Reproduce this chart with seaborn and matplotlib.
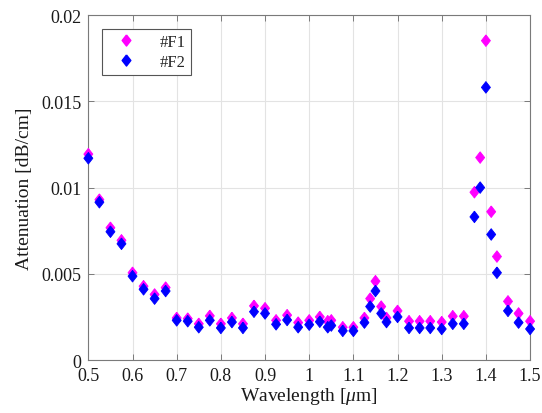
import numpy as np
import pandas as pd
import matplotlib
matplotlib.use("Agg")
import matplotlib.pyplot as plt
import seaborn as sns
from matplotlib.lines import Line2D

wavelength = [0.500, 0.525, 0.550, 0.575, 0.600, 0.625, 0.650, 0.675, 0.700, 0.725,
              0.750, 0.775, 0.800, 0.825, 0.850, 0.875, 0.900, 0.925, 0.950, 0.975,
              1.000, 1.024, 1.042, 1.050, 1.076, 1.100, 1.125, 1.138, 1.150, 1.163,
              1.175, 1.200, 1.226, 1.250, 1.274, 1.300, 1.325, 1.350, 1.374, 1.387,
              1.400, 1.412, 1.425, 1.450, 1.474, 1.500]
f1 = [0.01194, 0.00930, 0.00767, 0.00694, 0.00506, 0.00428, 0.00380, 0.00420, 0.00244, 0.00240,
      0.00210, 0.00256, 0.00210, 0.00244, 0.00210, 0.00314, 0.00300, 0.00230, 0.00260, 0.00217,
      0.00230, 0.00250, 0.00225, 0.00230, 0.00190, 0.00190, 0.00244, 0.00356, 0.00457, 0.00310,
      0.00244, 0.00285, 0.00225, 0.00225, 0.00225, 0.00220, 0.00254, 0.00254, 0.00973, 0.01174,
      0.01852, 0.00860, 0.00600, 0.00340, 0.00270, 0.00225]
f2 = [0.01170, 0.00915, 0.00744, 0.00674, 0.00486, 0.00410, 0.00356, 0.00400, 0.00230, 0.00225,
      0.00190, 0.00230, 0.00186, 0.00220, 0.00186, 0.00280, 0.00270, 0.00207, 0.00232, 0.00190,
      0.00205, 0.00222, 0.00190, 0.00200, 0.00169, 0.00169, 0.00217, 0.00310, 0.00400, 0.00270,
      0.00220, 0.00250, 0.00186, 0.00186, 0.00186, 0.00180, 0.00210, 0.00210, 0.00830, 0.01000,
      0.01581, 0.00728, 0.00506, 0.00285, 0.00217, 0.00180]
series_names = ["#F1", "#F2"]
series_colors = ["#ff00ff", "#0000ff"]
xticks = [0.5, 0.6, 0.7, 0.8, 0.9, 1.0, 1.1, 1.2, 1.3, 1.4, 1.5]
xtick_labels = ["0.5", "0.6", "0.7", "0.8", "0.9", "1", "1.1", "1.2", "1.3", "1.4", "1.5"]
yticks = [0, 0.005, 0.01, 0.015, 0.02]
ytick_labels = ["0", "0.005", "0.01", "0.015", "0.02"]

df = pd.DataFrame({
    "Wavelength": wavelength * 2,
    "Attenuation": f1 + f2,
    "Fiber": [series_names[0]] * len(f1) + [series_names[1]] * len(f2),
})

sns.set_style("whitegrid")
plt.rcParams["font.family"] = ["Liberation Serif", "DejaVu Serif"]
plt.rcParams["mathtext.fontset"] = "custom"
plt.rcParams["mathtext.it"] = "Liberation Serif:italic"
plt.rcParams["mathtext.rm"] = "Liberation Serif"

fig = plt.figure(figsize=(5.42, 4.14), dpi=100)
ax = fig.add_axes([0.163, 0.128, 0.815, 0.833])

diamond = [(0, 1), (0.78, 0), (0, -1), (-0.78, 0), (0, 1)]
sns.scatterplot(data=df, x="Wavelength", y="Attenuation", hue="Fiber",
                palette=dict(zip(series_names, series_colors)),
                marker=diamond, s=70, linewidth=0.6, ax=ax, legend=False,
                edgecolor=None, clip_on=False, zorder=3)
for coll in ax.collections:
    coll.set_edgecolor(coll.get_facecolor())

ax.set_xlim(0.5, 1.5)
ax.set_ylim(0, 0.02)
ax.set_xticks(xticks)
ax.set_xticklabels(xtick_labels)
ax.set_yticks(yticks)
ax.set_yticklabels(ytick_labels)
ax.grid(True, color="#e3e3e3", linewidth=0.8)
for sp in ax.spines.values():
    sp.set_visible(True)
    sp.set_color("#7a7a7a")
    sp.set_linewidth(0.8)
ax.tick_params(direction="in", length=4, width=0.7, color="#7a7a7a",
               top=True, right=True, bottom=True, left=True,
               labelsize=13, labelcolor="#1a1a1a", pad=5)
ax.set_xlabel(r"Wavelength [$\mu$m]", fontsize=14, color="#1a1a1a", labelpad=1)
ax.set_ylabel("Attenuation [dB/cm]", fontsize=14, color="#1a1a1a", labelpad=6)

handles = [Line2D([], [], linestyle="none", marker=diamond, markersize=8,
                  markerfacecolor=c, markeredgecolor=c) for c in series_colors]
leg = ax.legend(handles, series_names, loc="upper left", bbox_to_anchor=(0.03, 0.96),
                fontsize=12, frameon=True, fancybox=False, borderpad=0.3,
                handletextpad=0.9, labelspacing=0.25, handlelength=2.3,
                borderaxespad=0)
leg.get_frame().set_edgecolor("#555555")
leg.get_frame().set_linewidth(0.8)
leg.get_frame().set_facecolor("white")
leg.get_frame().set_alpha(1)

fig.savefig("out.png", dpi=100)
